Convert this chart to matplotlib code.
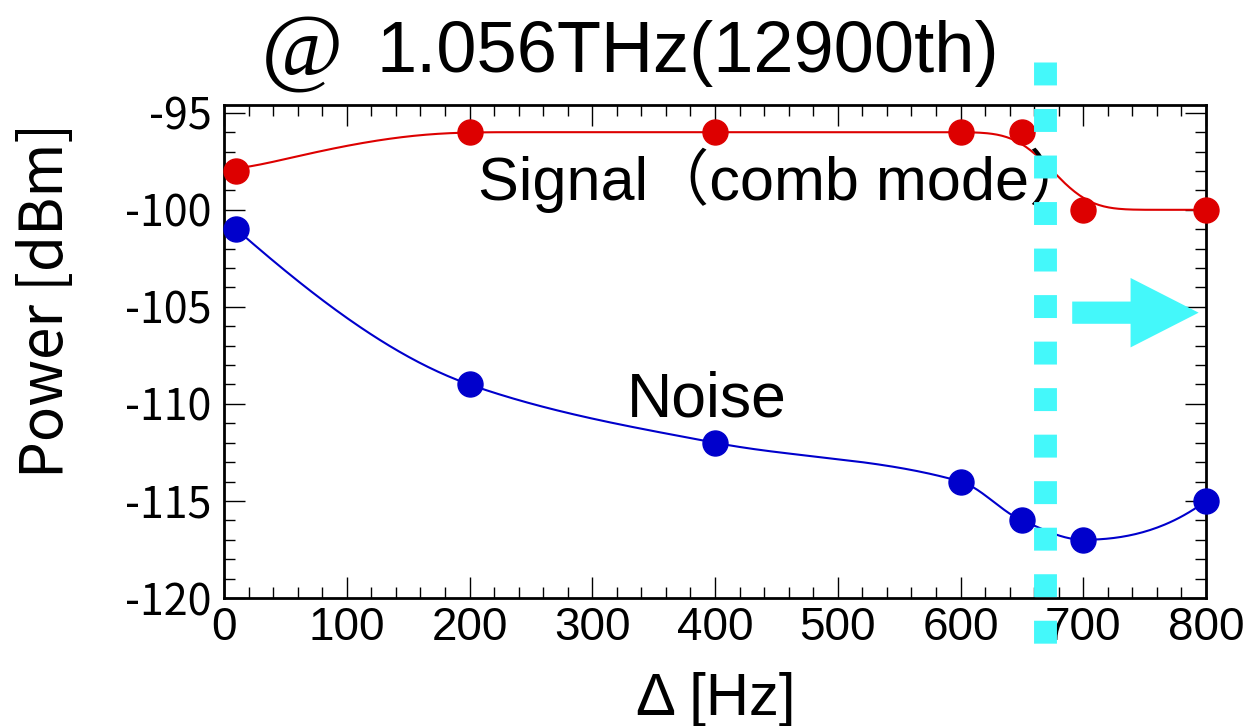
import numpy as np
import matplotlib
matplotlib.use('Agg')
import matplotlib.pyplot as plt
from matplotlib.patches import FancyArrowPatch, ArrowStyle

plt.rcParams['axes.unicode_minus'] = False

# data
delta_hz = [10, 200, 400, 600, 650, 700, 800]
signal_dbm = [-98, -96, -96, -96, -96, -100, -100]
noise_dbm = [-101, -109, -112, -114, -116, -117, -115]
xticks = [0, 100, 200, 300, 400, 500, 600, 700, 800]
yticks = [-120, -115, -110, -105, -100, -95]
cut_hz = 669          # dotted cyan marker
arrow_from, arrow_to, arrow_level = 691, 794, -105.3

RED = '#dd0000'
BLUE = '#0000cc'
CYAN = '#44f8fa'


def end_slope(h0, h1, d0, d1):
    m = ((2 * h0 + h1) * d0 - h0 * d1) / (h0 + h1)
    if np.sign(m) != np.sign(d0):
        return 0.0
    if np.sign(d0) != np.sign(d1) and abs(m) > 3 * abs(d0):
        return 3 * d0
    return m


def pchip(x, y, xs):
    x = np.asarray(x, float)
    y = np.asarray(y, float)
    h = np.diff(x)
    d = np.diff(y) / h
    m = np.zeros_like(y)
    m[0] = end_slope(h[0], h[1], d[0], d[1])
    m[-1] = end_slope(h[-1], h[-2], d[-1], d[-2])
    for k in range(1, len(x) - 1):
        if d[k - 1] * d[k] > 0:
            w1 = 2 * h[k] + h[k - 1]
            w2 = h[k] + 2 * h[k - 1]
            m[k] = (w1 + w2) / (w1 / d[k - 1] + w2 / d[k])
    idx = np.clip(np.searchsorted(x, xs) - 1, 0, len(x) - 2)
    t = (xs - x[idx]) / h[idx]
    h00 = 2 * t**3 - 3 * t**2 + 1
    h10 = t**3 - 2 * t**2 + t
    h01 = -2 * t**3 + 3 * t**2
    h11 = t**3 - t**2
    return (h00 * y[idx] + h10 * h[idx] * m[idx]
            + h01 * y[idx + 1] + h11 * h[idx] * m[idx + 1])


def soften(ys, step, sigma):
    # gaussian blur of the curve, edges held
    n = int(3 * sigma / step)
    k = np.exp(-0.5 * (np.arange(-n, n + 1) * step / sigma) ** 2)
    k /= k.sum()
    padded = np.pad(ys, n, mode='edge')
    return np.convolve(padded, k, mode='valid')


W, H = 1258, 726
fig = plt.figure(figsize=(W / 100, H / 100), dpi=100)
ax = fig.add_axes([224 / W, 1 - 598 / H, (1206 - 224) / W, (598 - 105) / H])

xs = np.linspace(delta_hz[0], delta_hz[-1], 400)
step = xs[1] - xs[0]
ax.plot(xs, soften(pchip(delta_hz, signal_dbm, xs), step, 22), color=RED, lw=1.5, zorder=3)
ax.plot(xs, pchip(delta_hz, noise_dbm, xs), color=BLUE, lw=1.5, zorder=3)
ax.plot(delta_hz, signal_dbm, 'o', color=RED, ms=18, zorder=4, clip_on=False)
ax.plot(delta_hz, noise_dbm, 'o', color=BLUE, ms=18, zorder=4, clip_on=False)

# dotted cyan cut line, runs past the axes
ax.plot([cut_hz, cut_hz], [1.087, -0.097], transform=ax.get_xaxis_transform(),
        color=CYAN, lw=16.5, dashes=(1, 1.03), solid_capstyle='butt',
        dash_capstyle='butt', clip_on=False, zorder=5)

arrow = FancyArrowPatch((arrow_from, arrow_level), (arrow_to, arrow_level),
                        arrowstyle=ArrowStyle.Simple(head_length=49, head_width=50,
                                                     tail_width=16),
                        mutation_scale=1, shrinkA=0, shrinkB=0,
                        color=CYAN, lw=0, zorder=5)
ax.add_patch(arrow)

ax.text(207, -99.5, 'Signal（comb mode）', fontsize=44,
        family=['Liberation Sans', 'Noto Sans CJK JP'], va='baseline')
ax.text(328, -110.67, 'Noise', fontsize=45, family='Liberation Sans', va='baseline')

ax.set_xlim(0, 800)
ax.set_ylim(-120, -94.6)
ax.set_xticks(xticks)
ax.set_xticks(np.arange(0, 801, 20), minor=True)
ax.set_yticks(yticks)
ax.set_yticks(np.arange(-120, -94, 1), minor=True)
for lab in ax.get_xticklabels():
    lab.set_family('Liberation Sans')
    lab.set_fontsize(33)
for lab in ax.get_yticklabels():
    lab.set_family('Noto Sans CJK JP')
    lab.set_fontsize(31)
ax.tick_params(which='both', direction='in', top=True, right=True, width=1, color='black')
ax.tick_params(which='major', length=15)
ax.tick_params(which='minor', length=8)
ax.tick_params(axis='x', pad=6)
ax.tick_params(axis='y', pad=9)
for s in ax.spines.values():
    s.set_linewidth(2)

fig.text(302 / W, 1 - 53 / H, '@', fontsize=64, family='Liberation Serif',
         style='italic', ha='center', va='center')
fig.text(688 / W, 1 - 72 / H, '1.056THz(12900th)', fontsize=52,
         family='Liberation Sans', ha='center', va='baseline')
fig.text(47 / W, 1 - 300 / H, 'Power [dBm]', fontsize=42, family='Noto Sans CJK JP',
         rotation=90, ha='center', va='center')
fig.text(716 / W, 1 - 715 / H, 'Δ [Hz]', fontsize=43, family='Liberation Sans',
         ha='center', va='baseline')

fig.savefig('out.png', dpi=100)
